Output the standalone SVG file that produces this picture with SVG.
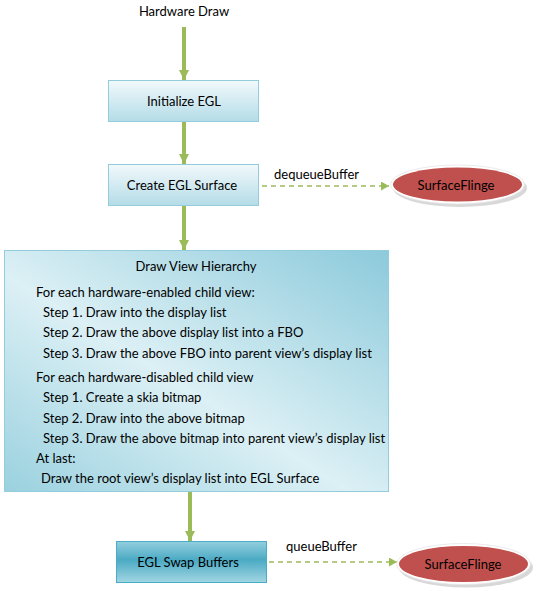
<svg xmlns="http://www.w3.org/2000/svg" width="538" height="591" viewBox="0 0 538 591">
<style>
text{font-family:"Lato","Liberation Sans",sans-serif;font-size:13px;fill:#000}
.c{text-anchor:middle}
.solid{stroke:#9bbb59;stroke-width:4;fill:none}
.dash{stroke:#9bbb59;stroke-width:1.5;fill:none;stroke-dasharray:5 4}
</style>
<defs>
<linearGradient id="g1" x1="0" y1="0" x2="0" y2="1">
<stop offset="0" stop-color="#f2f9fb"/><stop offset="1" stop-color="#b4dce7"/>
</linearGradient>
<linearGradient id="g2" x1="0" y1="1" x2="1" y2="0">
<stop offset="0" stop-color="#9ad1df"/><stop offset="0.45" stop-color="#dcf0f5"/><stop offset="1" stop-color="#8ccadb"/>
</linearGradient>
<linearGradient id="g3" x1="0" y1="0" x2="0" y2="1">
<stop offset="0" stop-color="#93cfde"/><stop offset="0.45" stop-color="#4baac4"/><stop offset="1" stop-color="#a3d6e3"/>
</linearGradient>
<marker id="ah" markerWidth="12" markerHeight="10" refX="10" refY="5" orient="auto" markerUnits="userSpaceOnUse">
<path d="M0,0 L10,5 L0,10 Z" fill="#9bbb59"/>
</marker>
<marker id="ad" markerWidth="10" markerHeight="10" refX="8" refY="4.5" orient="auto" markerUnits="userSpaceOnUse">
<path d="M0,0 L8,4.5 L0,9 Z" fill="#9bbb59"/>
</marker>
</defs>

<g id="connectors">
<line class="solid" x1="184" y1="27" x2="184" y2="80" marker-end="url(#ah)"/>
<line class="solid" x1="184" y1="122" x2="184" y2="164" marker-end="url(#ah)"/>
<line class="solid" x1="184" y1="206" x2="184" y2="250" marker-end="url(#ah)"/>
<line class="solid" x1="190" y1="492" x2="190" y2="541" marker-end="url(#ah)"/>
<circle cx="250" cy="186" r="3.8" fill="#9bbb59"/>
<line class="dash" x1="253" y1="186" x2="389" y2="186" marker-end="url(#ad)"/>
<circle cx="257" cy="562" r="3.8" fill="#9bbb59"/>
<line class="dash" x1="260" y1="562" x2="397" y2="562" marker-end="url(#ad)"/>
<text x="274" y="179">dequeueBuffer</text>
<text x="286" y="551">queueBuffer</text>
</g>

<g id="start"><text class="c" x="184" y="16">Hardware Draw</text></g>

<g id="init">
<rect x="108.5" y="80.5" width="150" height="41" fill="url(#g1)" stroke="#93cddd"/>
<text class="c" x="184" y="105.5">Initialize EGL</text>
</g>

<g id="create">
<rect x="108.5" y="164.5" width="150" height="41" fill="url(#g1)" stroke="#93cddd"/>
<text class="c" x="182" y="189.5">Create EGL Surface</text>
</g>

<g id="sf1">
<ellipse cx="460" cy="188" rx="67" ry="19" fill="#c8c8c8" opacity="0.7"/>
<ellipse cx="457.5" cy="184.5" rx="67" ry="19.5" fill="#fff" stroke="#e4e4e4" stroke-width="0.8"/>
<ellipse cx="457.5" cy="184.5" rx="64.5" ry="17" fill="#c0504d"/>
<text class="c" x="456" y="189.5">SurfaceFlinge</text>
</g>

<g id="draw">
<rect x="4.5" y="250.5" width="384" height="241" fill="url(#g2)" stroke="#93cddd"/>
<text class="c" x="196" y="271">Draw View Hierarchy</text>
<text x="36" y="297">For each hardware-enabled child view:</text>
<text x="43" y="317">Step 1. Draw into the display list</text>
<text x="43" y="337">Step 2. Draw the above display list into a FBO</text>
<text x="43" y="357.5">Step 3. Draw the above FBO into parent view’s display list</text>
<text x="36" y="381.5">For each hardware-disabled child  view</text>
<text x="43" y="402">Step 1. Create a skia bitmap</text>
<text x="43" y="422.5">Step 2. Draw into the above bitmap</text>
<text x="43" y="442.5">Step 3. Draw the above bitmap into parent view’s display list</text>
<text x="36" y="463">At last:</text>
<text x="41" y="483">Draw the root view’s  display list into EGL Surface</text>
</g>

<g id="swap">
<rect x="116.5" y="541.5" width="150" height="41" fill="url(#g3)" stroke="#4bacc6"/>
<text class="c" x="188" y="566.5">EGL Swap Buffers</text>
</g>

<g id="sf2">
<ellipse cx="466" cy="567.5" rx="67" ry="20" fill="#c8c8c8" opacity="0.7"/>
<ellipse cx="463.5" cy="564" rx="67" ry="20.5" fill="#fff" stroke="#e4e4e4" stroke-width="0.8"/>
<ellipse cx="463.5" cy="564" rx="64.5" ry="18" fill="#c0504d"/>
<text class="c" x="463" y="568.5">SurfaceFlinge</text>
</g>
</svg>
